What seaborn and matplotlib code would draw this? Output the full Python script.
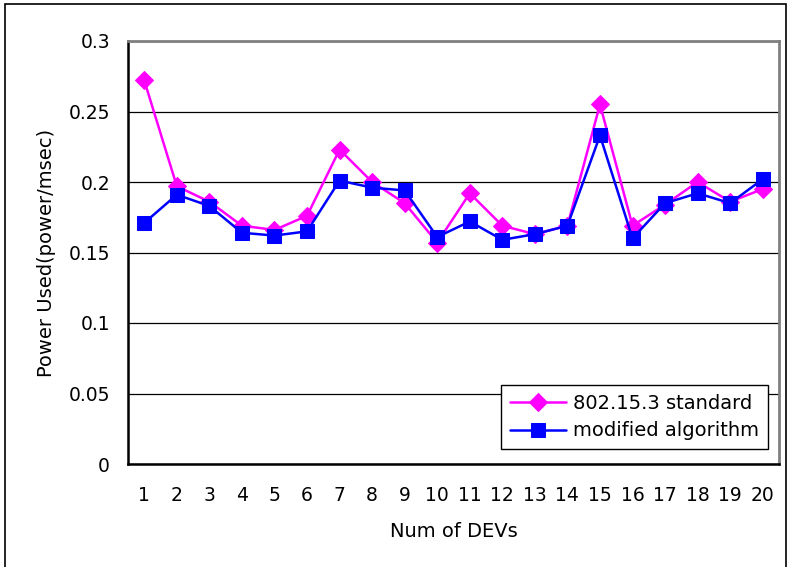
import numpy as np
import pandas as pd
import matplotlib
matplotlib.use("Agg")
import matplotlib.pyplot as plt
import seaborn as sns
from matplotlib.ticker import FixedLocator

# data
devs = list(range(1, 21))
standard = [0.272, 0.197, 0.186, 0.169, 0.166, 0.176, 0.223, 0.200, 0.185, 0.157,
            0.192, 0.169, 0.163, 0.169, 0.255, 0.169, 0.184, 0.200, 0.186, 0.195]
modified = [0.171, 0.191, 0.183, 0.164, 0.162, 0.165, 0.201, 0.196, 0.194, 0.161,
            0.172, 0.159, 0.163, 0.169, 0.233, 0.160, 0.185, 0.192, 0.185, 0.202]
series_names = ["802.15.3 standard", "modified algorithm"]
y_ticks = [0, 0.05, 0.1, 0.15, 0.2, 0.25, 0.3]
y_labels = ['0', '0.05', '0.1', '0.15', '0.2', '0.25', '0.3']

sns.set_style("white")
plt.rcParams['font.family'] = ['DejaVu Sans']
plt.rcParams['text.color'] = 'black'
plt.rcParams['axes.labelcolor'] = 'black'
plt.rcParams['xtick.color'] = 'black'
plt.rcParams['ytick.color'] = 'black'

fig = plt.figure(figsize=(7.89, 5.67), dpi=100)
ax = fig.add_axes([128/789, 1 - 464/567, (779-128)/789, (464-41)/567])

# outer frame of the chart
fig.patches.append(plt.Rectangle((5/789, -0.05), (786-5)/789, 1 - 4/567 + 0.05,
                                 transform=fig.transFigure, fill=False,
                                 edgecolor='black', linewidth=1.2))

sns.lineplot(x=devs, y=standard, ax=ax, color='#ff00ff', marker='D', markersize=9,
             markeredgecolor='#ff00ff', linewidth=1.8, label=series_names[0])
sns.lineplot(x=devs, y=modified, ax=ax, color='#0000ff', marker='s', markersize=10,
             markeredgecolor='#0000ff', linewidth=1.8, label=series_names[1])

ax.set_xlim(0.5, 20.5)
ax.set_ylim(0, 0.3)
ax.set_yticks(y_ticks)
ax.set_yticklabels(y_labels)
ax.set_xticks(devs)
ax.xaxis.set_minor_locator(FixedLocator(np.arange(0.5, 21, 1)))
ax.tick_params(axis='x', which='major', length=0, pad=16, labelsize=13.5)
ax.tick_params(axis='x', which='minor', length=5, width=1, color='black', direction='out')
ax.tick_params(axis='y', which='major', length=0, pad=13, labelsize=13.5)

ax.grid(axis='y', color='black', linewidth=0.9)
ax.set_axisbelow(True)
for side in ['left', 'bottom']:
    ax.spines[side].set_color('black')
    ax.spines[side].set_linewidth(1.8)
for side in ['top', 'right']:
    ax.spines[side].set_visible(True)
    ax.spines[side].set_color('#808080')
    ax.spines[side].set_linewidth(2)

ax.set_xlabel("Num of DEVs", fontsize=14, labelpad=12)
ax.set_ylabel("Power Used(power/msec)", fontsize=14, labelpad=9)

leg = ax.legend(loc='lower right', bbox_to_anchor=(0.983, 0.035), fontsize=14,
                fancybox=False, framealpha=1, edgecolor='black', borderpad=0.45,
                handlelength=2.9, handletextpad=0.35, labelspacing=0.45,
                borderaxespad=0)
leg.get_frame().set_linewidth(1)

fig.savefig("out.png", dpi=100)
